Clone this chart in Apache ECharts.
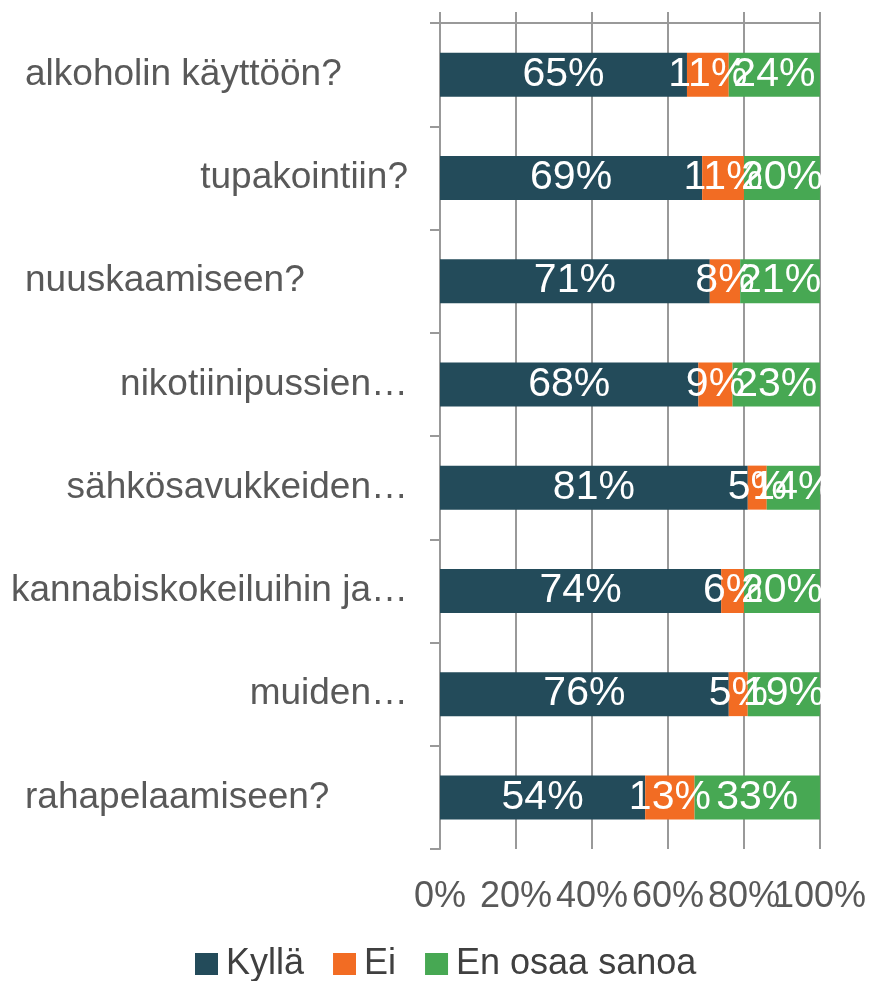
<!DOCTYPE html>
<html>
<head>
<meta charset="utf-8">
<script src="https://cdn.jsdelivr.net/npm/echarts@6/dist/echarts.min.js"></script>
<style>
  html, body { margin: 0; padding: 0; background: #fff; }
  #chart { width: 869px; height: 981px; }
</style>
</head>
<body>
<div id="chart"></div>
<script>
const categories = [
  'alkoholin käyttöön?',
  'tupakointiin?',
  'nuuskaamiseen?',
  'nikotiinipussien…',
  'sähkösavukkeiden…',
  'kannabiskokeiluihin ja…',
  'muiden…',
  'rahapelaamiseen?'
]
// labels that the original draws flush left instead of flush right
const leftAligned = ['alkoholin käyttöön?', 'nuuskaamiseen?', 'rahapelaamiseen?']
const kylla = [65, 69, 71, 68, 81, 74, 76, 54]
const ei = [11, 11, 8, 9, 5, 6, 5, 13]
const eos = [24, 20, 21, 23, 14, 20, 19, 33]
const xTicks = [0, 20, 40, 60, 80, 100]

const font = '"Liberation Sans", Arial, sans-serif'
const gridColor = '#999999'
const xMin = xTicks[0]
const xMax = xTicks[xTicks.length - 1]

const barLabel = {
  show: true,
  position: 'inside',
  color: '#ffffff',
  fontSize: 41,
  fontFamily: font,
  formatter: '{c}%'
}

function makeSeries(name, data, color) {
  return {
    name: name,
    type: 'bar',
    stack: 'total',
    barWidth: 44,
    data: data,
    itemStyle: { color: color },
    label: barLabel
  }
}

const tickLabel = {
  fontSize: 36,
  color: '#595959',
  fontFamily: font,
  margin: 30
}

const options = {
  animation: false,
  grid: { left: 440, right: 49, top: 23, bottom: 132 },
  legend: {
    left: 190,
    top: 941,
    icon: 'rect',
    itemWidth: 23,
    itemHeight: 22,
    itemGap: 29,
    textStyle: { fontSize: 36, lineHeight: 36, color: '#404040', fontFamily: font, padding: [0, 0, 0, 3] },
    data: ['Kyllä', 'Ei', 'En osaa sanoa']
  },
  xAxis: [
    {
      type: 'value',
      min: xMin,
      max: xMax,
      interval: 20,
      position: 'bottom',
      axisLine: { show: false },
      axisTick: { show: false },
      splitLine: { show: true, lineStyle: { color: gridColor, width: 2 } },
      axisLabel: Object.assign({ formatter: '{value}%', showMinLabel: true, showMaxLabel: false }, tickLabel)
    },
    {
      type: 'value',
      min: xMin,
      max: xMax,
      interval: 20,
      position: 'top',
      axisLine: { show: true, lineStyle: { color: gridColor, width: 2 } },
      axisTick: { show: true, length: 11, lineStyle: { color: gridColor, width: 2 } },
      splitLine: { show: false },
      axisLabel: { show: false }
    },
    {
      // carries only the last tick label, which ECharts would otherwise drop as overlapping
      type: 'value',
      min: xMin,
      max: xMax,
      interval: 20,
      position: 'bottom',
      axisLine: { show: false },
      axisTick: { show: false },
      splitLine: { show: false },
      axisLabel: Object.assign({
        formatter: function (v) { return v === xMax ? v + '%' : '' },
        showMaxLabel: true
      }, tickLabel)
    }
  ],
  yAxis: {
    type: 'category',
    inverse: true,
    data: categories,
    axisLine: { show: true, lineStyle: { color: gridColor, width: 2 } },
    axisTick: { show: true, length: 10, lineStyle: { color: gridColor, width: 2 } },
    axisLabel: {
      fontSize: 37,
      color: '#595959',
      fontFamily: font,
      margin: 32,
      formatter: function (v) {
        return leftAligned.indexOf(v) >= 0 ? '{l|' + v + '}' : v
      },
      rich: {
        l: { width: 383, align: 'left', fontSize: 37, color: '#595959', fontFamily: font }
      }
    }
  },
  series: [
    makeSeries('Kyllä', kylla, '#234b5a'),
    makeSeries('Ei', ei, '#f26c23'),
    makeSeries('En osaa sanoa', eos, '#47a853')
  ]
}

const chart = echarts.init(document.getElementById('chart'))
chart.setOption(options)
</script>
</body>
</html>
